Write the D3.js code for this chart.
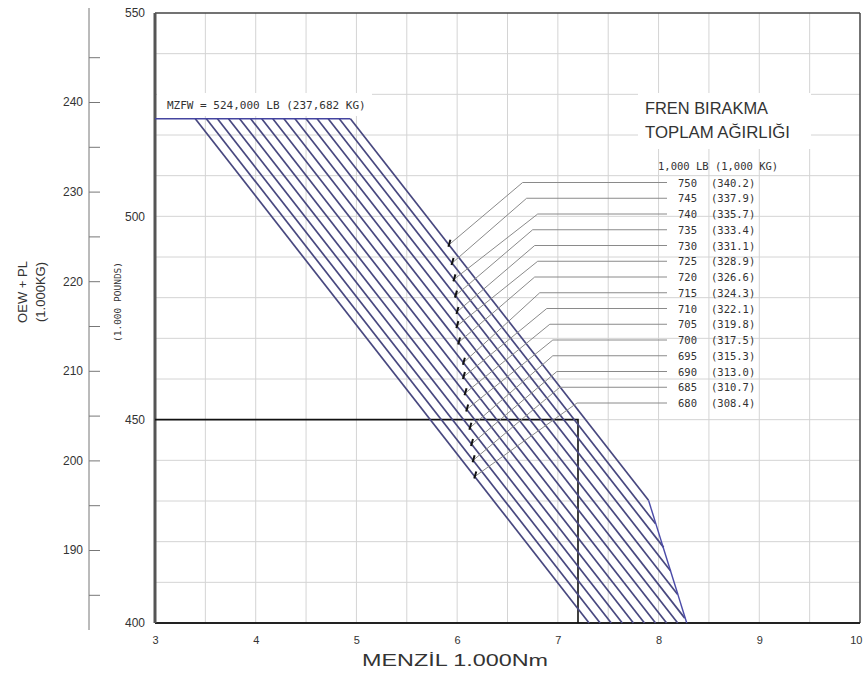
<!DOCTYPE html>
<html>
<head>
<meta charset="utf-8">
<script src="https://cdn.jsdelivr.net/npm/d3@7/dist/d3.min.js"></script>
<style>
body { margin: 0; background: #fff; }
svg { display: block; }
text { font-family: "Liberation Sans", Arial, sans-serif; fill: #333; }
.cad { font-family: "DejaVu Sans Mono", monospace; }
</style>
</head>
<body>
<svg width="863" height="677"></svg>
<script>
// 離陸重量 (1,000 LB / 1,000 KG)
var weightsLb = [750, 745, 740, 735, 730, 725, 720, 715, 710, 705, 700, 695, 690, 685, 680];
var weightsKg = ["340.2", "337.9", "335.7", "333.4", "331.1", "328.9", "326.6", "324.3", "322.1", "319.8", "317.5", "315.3", "313.0", "310.7", "308.4"];

// 各線の始点 (MZFW上の航続距離) と終点
var startRange = [4.94, 4.83, 4.72, 4.61, 4.50, 4.39, 4.28, 4.17, 4.06, 3.95, 3.84, 3.73, 3.62, 3.51, 3.40];
var endRange = [7.90, 7.97, 8.05, 8.12, 8.19, 8.26, 8.19, 8.08, 7.97, 7.86, 7.75, 7.64, 7.53, 7.42, 7.31];
var endPL = [430.2, 424.4, 418.6, 412.8, 407.0, 401.2, 400, 400, 400, 400, 400, 400, 400, 400, 400];

// 目印の位置 (OEW+PL) と引出線の折れ点 (航続距離)
var markPL = [493, 488.5, 484.5, 480.5, 476.5, 473, 469, 464, 460.5, 456.5, 452.5, 448, 444, 440, 436];
var leaderBend = [6.65, 6.69, 6.80, 6.75, 6.77, 6.80, 6.77, 6.82, 6.89, 6.92, 6.95, 6.95, 6.99, 7.02, 7.19];

var mzfwPL = 524;
var fuelLimitRange = [7.90, 8.28];
var fuelLimitPL = [430.2, 400];
var exampleRange = 7.2, examplePL = 450;

var xTicks = [3, 4, 5, 6, 7, 8, 9, 10];
var lbTicks = [400, 450, 500, 550];
var kgTicks = [185, 190, 195, 200, 205, 210, 215, 220, 225, 230, 235, 240, 245];

var svg = d3.select("svg");

var x = d3.scaleLinear().domain([3, 10]).range([155, 860]);
var y = d3.scaleLinear().domain([400, 550]).range([623, 13]);
var kg = d3.scaleLinear().domain([190, 240]).range([550, 102]);

// グリッド
var grid = svg.append("g").attr("stroke", "#d4d4d4").attr("stroke-width", 1);
grid.selectAll(".gx")
    .data(x.ticks(14).filter(function(d) { return d > 3 && d < 10; }))
    .enter().append("line")
      .attr("x1", function(d) { return x(d); })
      .attr("x2", function(d) { return x(d); })
      .attr("y1", y(550)).attr("y2", y(400));
grid.selectAll(".gy")
    .data(y.ticks(15).filter(function(d) { return d > 400 && d < 550; }))
    .enter().append("line")
      .attr("y1", function(d) { return y(d); })
      .attr("y2", function(d) { return y(d); })
      .attr("x1", x(3)).attr("x2", x(10));

// 文字の背景 (白)
svg.append("rect").attr("x", 157).attr("y", 93).attr("width", 215).attr("height", 23).attr("fill", "#fff");
svg.append("rect").attr("x", 638).attr("y", 93).attr("width", 173).attr("height", 56).attr("fill", "#fff");

// 枠
svg.append("line").attr("x1", x(3)).attr("x2", x(10)).attr("y1", y(550)).attr("y2", y(550))
    .attr("stroke", "#444").attr("stroke-width", 1.5);
svg.append("line").attr("x1", x(10)).attr("x2", x(10)).attr("y1", y(550)).attr("y2", y(400))
    .attr("stroke", "#444").attr("stroke-width", 1.5);
svg.append("line").attr("x1", x(3)).attr("x2", x(10)).attr("y1", y(400)).attr("y2", y(400))
    .attr("stroke", "#222").attr("stroke-width", 2);
svg.append("line").attr("x1", x(3)).attr("x2", x(3)).attr("y1", y(550)).attr("y2", y(400))
    .attr("stroke", "#555").attr("stroke-width", 3);

// 軸ラベル (1,000 LB)
var lbAxis = svg.append("g")
    .attr("transform", "translate(" + x(3) + ",0)")
    .call(d3.axisLeft(y).tickValues(lbTicks).tickSize(0).tickPadding(10));
lbAxis.select(".domain").remove();
lbAxis.selectAll("text").attr("font-size", 12).attr("fill", "#444").style("font-family", "Liberation Sans, Arial, sans-serif");

var xAxis = svg.append("g")
    .attr("transform", "translate(0," + y(400) + ")")
    .call(d3.axisBottom(x).tickValues(xTicks).tickFormat(d3.format("d")).tickSize(0).tickPadding(13));
xAxis.select(".domain").remove();
xAxis.selectAll("text").attr("font-size", 11).attr("fill", "#555").style("font-family", "Liberation Sans, Arial, sans-serif")
    .filter(function(d) { return d === 10; }).attr("text-anchor", "end").attr("dx", 2);

// kg 軸
var kgAxis = svg.append("g")
    .attr("transform", "translate(89,0)")
    .call(d3.axisLeft(kg).tickValues(kgTicks).tickSize(-11).tickSizeOuter(0).tickPadding(6)
        .tickFormat(function(d) { return d % 10 === 0 ? d : ""; }));
kgAxis.select(".domain").remove();
kgAxis.selectAll("line").attr("stroke", "#777");
kgAxis.selectAll("text").attr("font-size", 12).attr("fill", "#444").style("font-family", "Liberation Sans, Arial, sans-serif");
svg.append("line").attr("x1", 89).attr("x2", 89).attr("y1", y(550) - 5).attr("y2", y(400) + 7)
    .attr("stroke", "#777").attr("stroke-width", 1);

// 軸タイトル
svg.append("text").attr("transform", "translate(27,292) rotate(-90)")
    .attr("text-anchor", "middle").attr("font-size", 13).attr("fill", "#222").text("OEW + PL");
svg.append("text").attr("transform", "translate(45,292) rotate(-90)")
    .attr("text-anchor", "middle").attr("font-size", 13).attr("fill", "#222").text("(1.000KG)");
svg.append("text").attr("class", "cad").attr("transform", "translate(121,302) rotate(-90)")
    .attr("text-anchor", "middle").attr("font-size", 9.5).attr("fill", "#444").text("(1.000 POUNDS)");
svg.append("text").attr("x", 455).attr("y", 666).attr("text-anchor", "middle")
    .attr("font-size", 16).attr("fill", "#222")
    .attr("textLength", 186).attr("lengthAdjust", "spacingAndGlyphs").text("MENZİL 1.000Nm");

// 例示線 (450 → 7.2)
svg.append("path")
    .attr("d", d3.line()([[x(3), y(examplePL)], [x(exampleRange), y(examplePL)], [x(exampleRange), y(400)]]))
    .attr("fill", "none").attr("stroke", "#111").attr("stroke-width", 1.6);

// 重量線
var lines = weightsLb.map(function(w, i) {
    return { w: w, kg: weightsKg[i], x0: startRange[i], y0: mzfwPL, x1: endRange[i], y1: endPL[i], m: markPL[i], b: leaderBend[i] };
});

var line = d3.line().x(function(d) { return x(d[0]); }).y(function(d) { return y(d[1]); });

svg.append("g").selectAll("path")
    .data(lines)
    .enter().append("path")
      .attr("d", function(d) { return line([[d.x0, d.y0], [d.x1, d.y1]]); })
      .attr("fill", "none")
      .attr("stroke", "#48487f")
      .attr("stroke-width", 1.7);

// MZFW 線と燃料制限線
svg.append("path").attr("d", line([[3, mzfwPL], [startRange[0], mzfwPL]]))
    .attr("fill", "none").attr("stroke", "#4545a0").attr("stroke-width", 1.6);
svg.append("path").attr("d", line(fuelLimitRange.map(function(r, i) { return [r, fuelLimitPL[i]]; })))
    .attr("fill", "none").attr("stroke", "#4b4ba8").attr("stroke-width", 1.4);

svg.append("text").attr("class", "cad").attr("x", 167).attr("y", 109)
    .attr("font-size", 11).attr("fill", "#333").text("MZFW = 524,000 LB (237,682 KG)");

// 引出線とラベル
var labelY = d3.scalePoint().domain(weightsLb).range([182.5, 403]);

function markX(d) {
    var t = (d.m - d.y0) / (d.y1 - d.y0);
    return x(d.x0 + t * (d.x1 - d.x0));
}

svg.append("g").selectAll("path")
    .data(lines)
    .enter().append("path")
      .attr("d", function(d) {
          return d3.line()([[markX(d), y(d.m)], [x(d.b), labelY(d.w)], [667, labelY(d.w)]]);
      })
      .attr("fill", "none")
      .attr("stroke", "#8a8a8a")
      .attr("stroke-width", 1);

svg.append("g").selectAll("line")
    .data(lines)
    .enter().append("line")
      .attr("x1", function(d) { return markX(d) - 0.5; })
      .attr("y1", function(d) { return y(d.m) + 2; })
      .attr("x2", function(d) { return markX(d) + 1.5; })
      .attr("y2", function(d) { return y(d.m) - 5; })
      .attr("stroke", "#111")
      .attr("stroke-width", 2);

var labels = svg.append("g");
labels.selectAll(".lb")
    .data(lines)
    .enter().append("text")
      .attr("class", "cad")
      .attr("x", 697)
      .attr("y", function(d) { return labelY(d.w) + 4; })
      .attr("text-anchor", "end")
      .attr("font-size", 10.5)
      .text(function(d) { return d.w; });
labels.selectAll(".kg")
    .data(lines)
    .enter().append("text")
      .attr("class", "cad")
      .attr("x", 711)
      .attr("y", function(d) { return labelY(d.w) + 4; })
      .attr("font-size", 10.5)
      .text(function(d) { return "(" + d.kg + ")"; });
svg.append("text").attr("class", "cad").attr("x", 658).attr("y", 170)
    .attr("font-size", 10.5).text("1,000 LB (1,000 KG)");

svg.append("text").attr("x", 645).attr("y", 114).attr("font-size", 17).attr("fill", "#111")
    .attr("textLength", 123).attr("lengthAdjust", "spacingAndGlyphs").text("FREN BIRAKMA");
svg.append("text").attr("x", 645).attr("y", 138).attr("font-size", 17).attr("fill", "#111")
    .attr("textLength", 145).attr("lengthAdjust", "spacingAndGlyphs").text("TOPLAM AĞIRLIĞI");
</script>
</body>
</html>
